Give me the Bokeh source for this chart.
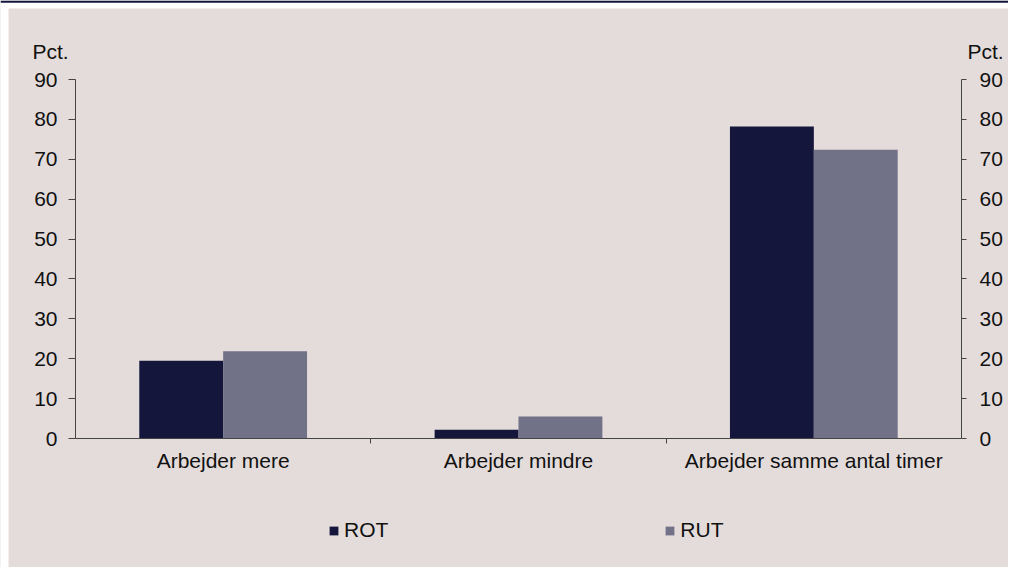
from bokeh.plotting import figure
from bokeh.models import (Range1d, FixedTicker, LinearAxis, Legend, LegendItem,
                          ColumnDataSource, Label, BoxAnnotation)
from bokeh.embed import file_html
from bokeh.resources import INLINE

categories = ["Arbejder mere", "Arbejder mindre", "Arbejder samme antal timer"]
rot_values = [19.5, 2.2, 78.2]
rut_values = [21.9, 5.5, 72.4]
y_ticks = [0, 10, 20, 30, 40, 50, 60, 70, 80, 90]
unit_label = "Pct."

BG = "#e4dcdb"
ROT_C = "#15163c"
RUT_C = "#717188"
FONT = "Liberation Sans"
FS = "21px"
AXIS_C = "#444444"
TXT_C = "#111111"

W, H = 1008, 567
# pixel geometry of the axes box inside the canvas
AX_L, AX_R, AX_T, AX_B = 75, 961, 79, 438
n = len(categories)
y_max = y_ticks[-1]
px_x = (AX_R - AX_L) / n
px_y = (AX_B - AX_T) / y_max

def dx(px):
    return (px - AX_L) / px_x

def dy(py):
    return (AX_B - py) / px_y

centers = [i + 0.5 for i in range(n)]
bar_w = 0.284
src = ColumnDataSource(dict(
    x_rot=[c - bar_w / 2 for c in centers],
    x_rut=[c + bar_w / 2 for c in centers],
    rot=rot_values, rut=rut_values,
))

p = figure(width=W, height=H, output_backend="svg", toolbar_location=None,
           x_range=Range1d(dx(0), dx(W)), y_range=Range1d(dy(H), dy(0)),
           min_border=0, background_fill_color=BG, border_fill_color=BG,
           outline_line_color=None, x_axis_type=None, y_axis_type=None)
p.xgrid.visible = False
p.ygrid.visible = False

# page frame: white margin strips and dark rule on top
p.add_layout(BoxAnnotation(right=dx(8), fill_color="white", fill_alpha=1, line_color=None))
p.add_layout(BoxAnnotation(bottom=dy(8), fill_color="white", fill_alpha=1, line_color=None))
p.add_layout(BoxAnnotation(bottom=dy(2.3), fill_color=ROT_C, fill_alpha=1, line_color=None))

r_rot = p.vbar(x="x_rot", top="rot", width=bar_w, source=src, fill_color=ROT_C, line_color=None)
r_rut = p.vbar(x="x_rut", top="rut", width=bar_w, source=src, fill_color=RUT_C, line_color=None)

def style(ax):
    ax.axis_line_color = AXIS_C
    ax.major_tick_line_color = AXIS_C
    ax.minor_tick_line_color = AXIS_C
    ax.major_tick_in = 0
    ax.minor_tick_in = 0
    ax.major_label_text_font = FONT
    ax.major_label_text_font_size = FS
    ax.major_label_text_color = TXT_C

# x axis
xa = LinearAxis(ticker=FixedTicker(ticks=centers, minor_ticks=list(range(1, n))),
                fixed_location=0, bounds=(0, n))
style(xa)
xa.major_label_overrides = {c: cat for c, cat in zip(centers, categories)}
xa.major_tick_out = 0
xa.minor_tick_out = 5
xa.major_label_standoff = 5
p.add_layout(xa, "below")

# left y axis
ya = LinearAxis(ticker=FixedTicker(ticks=y_ticks, minor_ticks=[]),
                fixed_location=0, bounds=(0, y_max))
style(ya)
ya.major_tick_out = 7
ya.minor_tick_out = 0
ya.major_label_standoff = 11
p.add_layout(ya, "left")

# right y axis
ra = LinearAxis(ticker=FixedTicker(ticks=y_ticks, minor_ticks=[]),
                fixed_location=n, bounds=(0, y_max))
style(ra)
ra.major_tick_out = 5
ra.minor_tick_out = 0
ra.major_label_standoff = 13
p.add_layout(ra, "right")

# unit labels above both axes
for xx in (dx(32), dx(967)):
    p.add_layout(Label(x=xx, y=dy(51), text=unit_label, text_font=FONT,
                       text_font_size=FS, text_color=TXT_C,
                       text_baseline="alphabetic", text_align="left"))

legend = Legend(items=[LegendItem(label="ROT", renderers=[r_rot]),
                       LegendItem(label="RUT", renderers=[r_rut])],
                location=(328, 25), orientation="horizontal", spacing=276,
                padding=0, margin=0, background_fill_alpha=0, border_line_color=None,
                label_text_font=FONT, label_text_font_size=FS, label_text_color=TXT_C,
                glyph_width=11, glyph_height=11, label_standoff=5)
p.add_layout(legend, "center")

open("out.html", "w").write(file_html(p, INLINE))
